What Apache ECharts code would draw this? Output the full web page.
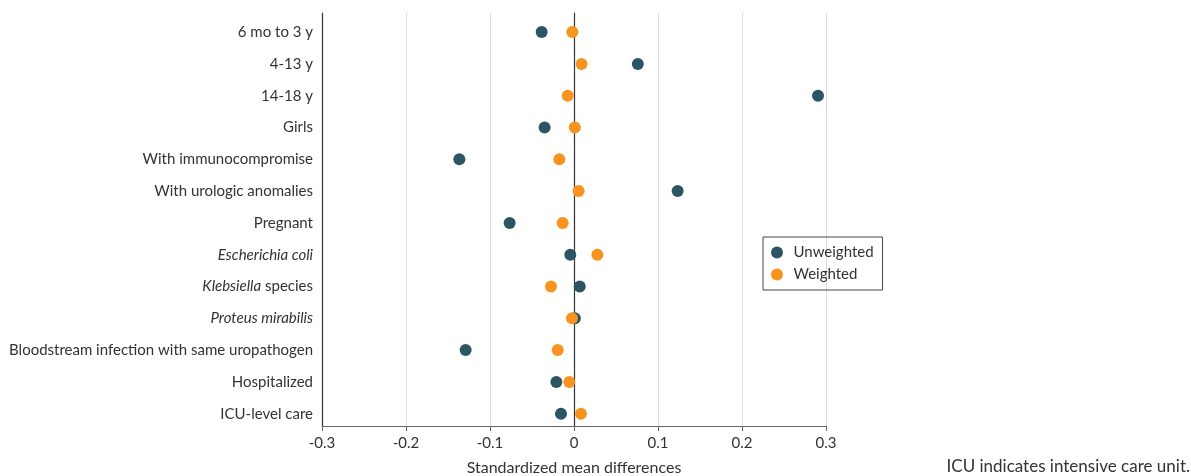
<!DOCTYPE html>
<html>
<head>
<meta charset="utf-8">
<script src="https://cdn.jsdelivr.net/npm/echarts@6/dist/echarts.min.js"></script>
<style>
html,body{margin:0;padding:0;background:#fff;}
#chart{width:1191px;height:476px;}
</style>
</head>
<body>
<div id="chart"></div>
<script>
const categories = [
  '6 mo to 3 y', '4-13 y', '14-18 y', 'Girls', 'With immunocompromise',
  'With urologic anomalies', 'Pregnant', 'Escherichia coli', 'Klebsiella species',
  'Proteus mirabilis', 'Bloodstream infection with same uropathogen', 'Hospitalized', 'ICU-level care'
];
const italicParts = ['', '', '', '', '', '', '', 'Escherichia coli', 'Klebsiella', 'Proteus mirabilis', '', '', ''];
const unweighted = [-0.0385, 0.076, 0.2905, -0.035, -0.1365, 0.1234, -0.0766, -0.0044, 0.0068, 0.001, -0.129, -0.021, -0.0155];
const weighted   = [-0.002, 0.009, -0.0075, 0.001, -0.0175, 0.0055, -0.0135, 0.0278, -0.0274, -0.0024, -0.0194, -0.0056, 0.0083];
const xTicks = [-0.3, -0.2, -0.1, 0, 0.1, 0.2, 0.3];
const xTickLabels = ['-0.3', '-0.2', '-0.1', '0', '0.1', '0.2', '0.3'];
const seriesNames = ['Unweighted', 'Weighted'];

const FONT = 'Lato';
const TXT = '#333';
const chart = echarts.init(document.getElementById('chart'), null, {renderer: 'canvas'});

function tickLabel(v) {
  for (let i = 0; i < xTicks.length; i++) {
    if (Math.abs(xTicks[i] - v) < 1e-9) return xTickLabels[i];
  }
  return '';
}

const option = {
  animation: false,
  backgroundColor: '#fff',
  grid: [
    {left: 322, right: 365, top: 16.2, height: 413.4, outerBoundsMode: 'none', containLabel: false},
    {left: 322, right: 365, top: 13, bottom: 50, outerBoundsMode: 'none', containLabel: false}
  ],
  legend: {
    data: seriesNames,
    orient: 'vertical',
    left: 763,
    top: 237,
    icon: 'circle',
    itemWidth: 17,
    itemHeight: 12,
    itemGap: 7,
    padding: [8, 9, 8, 8],
    borderColor: '#444',
    borderWidth: 1,
    textStyle: {fontFamily: FONT, fontSize: 15, color: TXT, padding: [0, 0, 0, 3]}
  },
  xAxis: [
    {gridIndex: 0, type: 'value', min: -0.3, max: 0.3, show: false},
    {
      gridIndex: 1, type: 'value', min: -0.3, max: 0.3, interval: 0.1,
      name: 'Standardized mean differences', nameLocation: 'middle', nameGap: 34,
      nameTextStyle: {fontFamily: FONT, fontSize: 16, color: TXT},
      axisLine: {show: true, onZero: false, lineStyle: {color: '#666', width: 1}},
      axisTick: {show: true, length: 5, lineStyle: {color: '#666'}},
      axisLabel: {fontFamily: FONT, fontSize: 15, color: TXT, margin: 10, formatter: tickLabel},
      splitLine: {show: true, lineStyle: {color: '#dcdcdc', width: 1}}
    }
  ],
  yAxis: [
    {
      gridIndex: 0, type: 'category', data: categories, inverse: true,
      axisLine: {show: false, onZero: false}, axisTick: {show: false}, splitLine: {show: false},
      axisLabel: {
        margin: 9, fontFamily: FONT, fontSize: 15, color: TXT,
        formatter: function (val, idx) {
          const it = italicParts[idx];
          if (it) {
            const rest = val.slice(it.length);
            return '{i|' + it + '}' + (rest ? '{n|' + rest + '}' : '');
          }
          return '{n|' + val + '}';
        },
        rich: {
          i: {fontFamily: FONT, fontSize: 15, color: TXT, fontStyle: 'italic'},
          n: {fontFamily: FONT, fontSize: 15, color: TXT}
        }
      }
    },
    {
      gridIndex: 1, type: 'value', min: 0, max: 1, position: 'left',
      axisLine: {show: true, onZero: false, lineStyle: {color: '#333', width: 1.2}},
      axisTick: {show: false}, axisLabel: {show: false}, splitLine: {show: false}
    },
    {
      gridIndex: 1, type: 'value', min: 0, max: 1, position: 'left',
      axisLine: {show: true, onZero: true, lineStyle: {color: '#333', width: 1.2}},
      axisTick: {show: false}, axisLabel: {show: false}, splitLine: {show: false}
    }
  ],
  series: [
    {
      name: seriesNames[0], type: 'scatter', xAxisIndex: 0, yAxisIndex: 0,
      symbolSize: 12, itemStyle: {color: '#2c5564', opacity: 1}, z: 3,
      data: unweighted.map((v, i) => [v, categories[i]])
    },
    {
      name: seriesNames[1], type: 'scatter', xAxisIndex: 0, yAxisIndex: 0,
      symbolSize: 12, itemStyle: {color: '#f7931e', opacity: 1}, z: 4,
      data: weighted.map((v, i) => [v, categories[i]])
    }
  ],
  graphic: [
    {
      type: 'text', right: 1, top: 458,
      style: {text: 'ICU indicates intensive care unit.', fontFamily: FONT, fontSize: 17, fill: TXT}
    }
  ]
};
chart.setOption(option);
</script>
</body>
</html>
